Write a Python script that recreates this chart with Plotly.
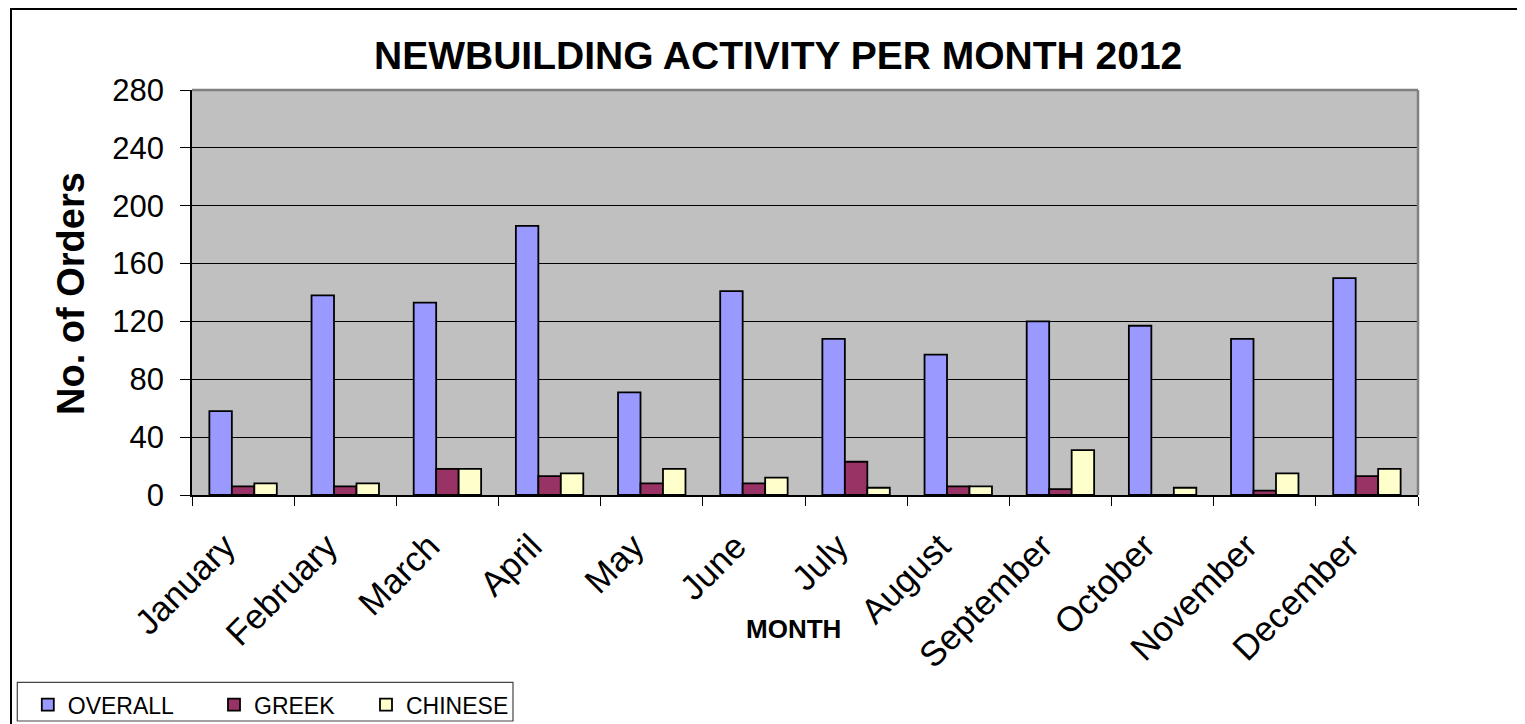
import plotly.graph_objects as go

months = ["January", "February", "March", "April", "May", "June", "July",
          "August", "September", "October", "November", "December"]
overall = [58, 138, 133, 186, 71, 141, 108, 97, 120, 117, 108, 150]
greek = [6, 6, 18, 13, 8, 8, 23, 6, 4, 0, 3, 13]
chinese = [8, 8, 18, 15, 18, 12, 5, 6, 31, 5, 15, 18]

FONT = "Liberation Sans, Arial, sans-serif"
# The page body has an 8px margin, so the figure starts at page (8, 8).
OFF = 8
W, H = 1525 - OFF, 724 - OFF
# plot-area edges in page pixels
L, R, T, B = 192, 1418, 90, 495


def px(x):
    return (x - L) / (R - L)


def py(y):
    return (B - y) / (B - T)


fig = go.Figure()
series = [("OVERALL", overall, "#9999FF", "legend"),
          ("GREEK", greek, "#993366", "legend2"),
          ("CHINESE", chinese, "#FFFFCC", "legend3")]
for name, vals, col, lg in series:
    fig.add_trace(go.Bar(x=months, y=vals, name=name, legend=lg, showlegend=True,
                         marker=dict(color=col, line=dict(color="black", width=1.8))))

leg_common = dict(orientation="h", bgcolor="rgba(0,0,0,0)", borderwidth=0,
                  font=dict(family=FONT, size=23, color="black"),
                  xanchor="left", yanchor="middle", xref="paper", yref="paper")

fig.update_layout(
    width=W, height=H, autosize=False, showlegend=True,
    margin=dict(l=L - OFF, r=W - (R - OFF), t=T - OFF, b=H - (B - OFF), autoexpand=False),
    paper_bgcolor="white", plot_bgcolor="#C0C0C0",
    barmode="group", bargap=0.34, bargroupgap=0,
    font=dict(family=FONT, color="black"),
    legend=dict(x=px(27.8), y=py(704.7), visible=True, **leg_common),
    legend2=dict(x=px(214), y=py(704.7), **leg_common),
    legend3=dict(x=px(366), y=py(704.7), **leg_common),
    xaxis=dict(type="category", tickson="boundaries", ticks="outside", ticklen=9,
               tickcolor="black", tickwidth=1, tickangle=-45, automargin=False,
               ticklabelshift=-18, ticklabelstandoff=15,
               tickfont=dict(family=FONT, size=35, color="black"),
               showgrid=False, showline=True, linecolor="black", linewidth=1.5),
    yaxis=dict(range=[0, 280], dtick=40, tick0=0, ticks="outside", ticklen=10,
               tickcolor="black", tickwidth=1, automargin=False, ticklabelstandoff=10,
               tickfont=dict(family=FONT, size=31, color="black"),
               showgrid=True, gridcolor="black", gridwidth=1,
               showline=True, linecolor="black", linewidth=1.5, zeroline=False),
    annotations=[
        dict(text="<b>NEWBUILDING ACTIVITY PER MONTH 2012</b>", x=px(777.5), y=py(55.5),
             xref="paper", yref="paper", xanchor="center", yanchor="middle",
             showarrow=False, font=dict(family=FONT, size=39, color="black")),
        dict(text="<b>No. of Orders</b>", x=px(71), y=py(294), textangle=-90,
             xref="paper", yref="paper", xanchor="center", yanchor="middle",
             showarrow=False, font=dict(family=FONT, size=38, color="black")),
        dict(text="<b>MONTH</b>", x=px(793.7), y=py(628.5),
             xref="paper", yref="paper", xanchor="center", yanchor="middle",
             showarrow=False, font=dict(family=FONT, size=26, color="black")),
    ],
    shapes=[
        dict(type="line", xref="paper", yref="paper", x0=0, x1=1, y0=1, y1=1,
             line=dict(color="#808080", width=2.5), layer="above"),
        dict(type="line", xref="paper", yref="paper", x0=1, x1=1, y0=0, y1=1,
             line=dict(color="#808080", width=2.5), layer="above"),
        dict(type="rect", xref="paper", yref="paper", x0=px(11), x1=px(1600),
             y0=py(9), y1=py(800), line=dict(color="black", width=2), layer="below"),
        dict(type="rect", xref="paper", yref="paper", x0=px(17.3), x1=px(513),
             y0=py(682.3), y1=py(721), line=dict(color="#444444", width=1.2), layer="below"),
    ],
)

fig.write_html("out.html")
